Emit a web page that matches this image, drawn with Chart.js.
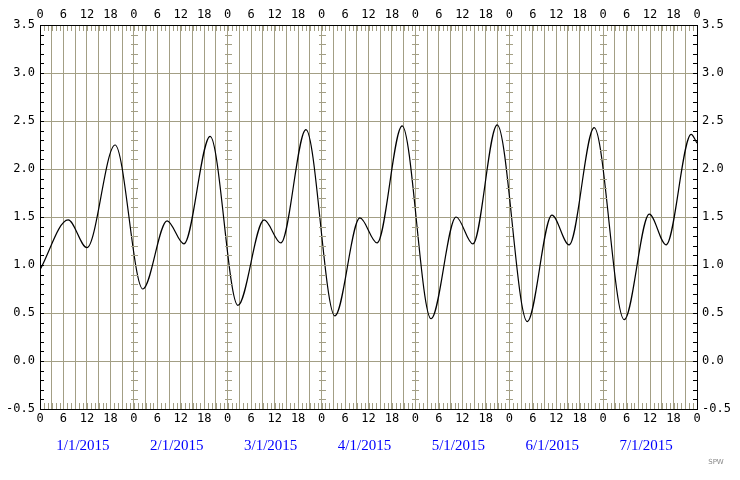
<!DOCTYPE html>
<html><head><meta charset="utf-8">
<script src="https://cdn.jsdelivr.net/npm/chart.js@4"></script>
<style>html,body{margin:0;background:#fff}#w{width:740px;height:480px}</style>
</head><body><div id="w"><canvas id="c"></canvas></div>
<script>
const hours = [0,7.2,12,19.2,26.3,32.5,36.8,43.5,50.6,57.3,61.6,68,75.4,81.8,86.2,92.6,100,106.4,110.7,116.9,124.6,130.9,135.3,141.7,149.4,155.8,160.1,166.5,168];
const heights = [0.95,1.47,1.18,2.25,0.75,1.46,1.22,2.34,0.58,1.47,1.23,2.41,0.47,1.49,1.23,2.45,0.44,1.50,1.22,2.46,0.41,1.52,1.21,2.43,0.43,1.53,1.21,2.36,2.27];
const dates = ['1/1/2015','2/1/2015','3/1/2015','4/1/2015','5/1/2015','6/1/2015','7/1/2015'];
const GRID = '#a39f85';
const F = {family:'"DejaVu Sans Mono", monospace', size:12};

const deco = {
  id:'deco',
  afterDatasetsDraw(ch){
    const c=ch.ctx, a=ch.chartArea, x=ch.scales.x, y=ch.scales.y;
    c.save();
    c.lineWidth=1;
    c.strokeStyle=GRID;
    c.beginPath();
    for(let h=0;h<=168;h++){
      const px=Math.round(x.getPixelForValue(h))+0.5;
      c.moveTo(px,a.top); c.lineTo(px,a.top+6);
      c.moveTo(px,a.bottom); c.lineTo(px,a.bottom-6);
    }
    for(let k=-5;k<=35;k++){
      const py=Math.round(y.getPixelForValue(k/10))+0.5;
      for(let d=1;d<7;d++){
        const px=Math.round(x.getPixelForValue(d*24));
        c.moveTo(px-3,py); c.lineTo(px+4,py);
      }
    }
    c.stroke();
    c.strokeStyle='#000';
    c.beginPath();
    for(let k=-5;k<=35;k++){
      const py=Math.round(y.getPixelForValue(k/10))+0.5;
      c.moveTo(a.left,py); c.lineTo(a.left+4,py);
      c.moveTo(a.right,py); c.lineTo(a.right-4,py);
    }
    c.stroke();
    c.strokeRect(Math.round(a.left)+0.5,Math.round(a.top)+0.5,Math.round(a.right-a.left),Math.round(a.bottom-a.top));
    c.fillStyle='#0000ff'; c.font='15px "Liberation Serif", serif'; c.textAlign='center'; c.textBaseline='middle';
    dates.forEach((d,i)=>c.fillText(d,x.getPixelForValue(i*24+12)-4,446));
    c.fillStyle='#888'; c.font='7px "DejaVu Sans", sans-serif'; c.fillText('SPW',716,462);
    c.restore();
  }
};

const hourTick = {min:0,max:168,stepSize:3,autoSkip:false,maxRotation:0,color:'#000',font:F,padding:3,
  callback:(v)=> v%6===0 ? String(v%24) : ''};
const yTick = {stepSize:0.5,color:'#000',font:F,callback:v=>v.toFixed(1),padding:5};

new Chart(document.getElementById('c'),{
  type:'line',
  data:{datasets:[{data:hours.map((h,i)=>({x:h,y:heights[i]})),borderColor:'#000',borderWidth:1.2,pointRadius:0,cubicInterpolationMode:'monotone',fill:false}]},
  options:{responsive:true,maintainAspectRatio:false,animation:false,
    plugins:{legend:{display:false},tooltip:{enabled:false}},
    layout:{padding:0},
    scales:{
      x:{type:'linear',position:'bottom',min:0,max:168,ticks:hourTick,
        grid:{color:GRID,drawTicks:false,lineWidth:1},border:{display:false},
        afterFit:s=>{s.height=71}},
      x2:{type:'linear',position:'top',min:0,max:168,ticks:hourTick,grid:{display:false,drawTicks:false},border:{display:false},
        afterFit:s=>{s.height=25}},
      y:{position:'left',min:-0.5,max:3.5,ticks:yTick,grid:{color:GRID,drawTicks:false},border:{display:false},
        afterFit:s=>{s.width=40}},
      y2:{position:'right',min:-0.5,max:3.5,ticks:yTick,grid:{display:false,drawTicks:false},border:{display:false},
        afterFit:s=>{s.width=43}}
    }
  },
  plugins:[deco]
});
</script></body></html>
